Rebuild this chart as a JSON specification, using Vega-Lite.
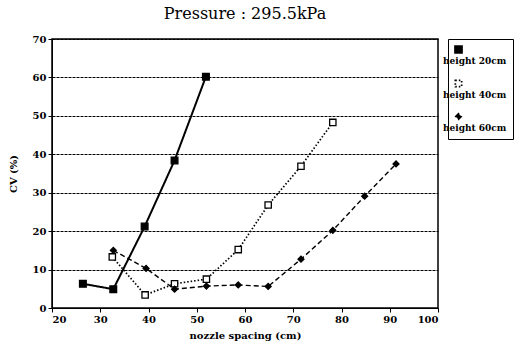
{
  "$schema": "https://vega.github.io/schema/vega-lite/v6.json",
  "autosize": "none",
  "width": 386,
  "height": 269,
  "padding": {"left": 52, "top": 39, "right": 88, "bottom": 39},
  "background": "white",
  "title": {"text": "Pressure : 295.5kPa", "font": "DejaVu Serif", "fontSize": 16, "fontWeight": "normal", "color": "black", "anchor": "middle", "offset": 12},
  "config": {
    "font": "DejaVu Serif",
    "view": {"stroke": "black", "strokeWidth": 1.5},
    "axis": {"labelFont": "DejaVu Serif", "labelFontWeight": "bold", "labelFontSize": 10, "labelColor": "black", "titleFont": "DejaVu Serif", "titleFontWeight": "bold", "titleFontSize": 10, "titleColor": "black", "domainColor": "black", "tickColor": "black", "tickSize": 4},
    "legend": {"labelFont": "DejaVu Serif", "labelFontWeight": "bold", "labelFontSize": 9, "labelColor": "black", "strokeColor": "black", "padding": 6, "offset": 10}
  },
  "data": {"values": [
    {"series": "height 20cm", "spacing": 26.4, "cv": 6.3},
    {"series": "height 20cm", "spacing": 32.7, "cv": 4.9},
    {"series": "height 20cm", "spacing": 39.2, "cv": 21.2},
    {"series": "height 20cm", "spacing": 45.4, "cv": 38.4},
    {"series": "height 20cm", "spacing": 51.9, "cv": 60.2},
    {"series": "height 40cm", "spacing": 32.5, "cv": 13.3},
    {"series": "height 40cm", "spacing": 39.3, "cv": 3.4},
    {"series": "height 40cm", "spacing": 45.4, "cv": 6.3},
    {"series": "height 40cm", "spacing": 52.0, "cv": 7.5},
    {"series": "height 40cm", "spacing": 58.6, "cv": 15.2},
    {"series": "height 40cm", "spacing": 64.8, "cv": 26.8},
    {"series": "height 40cm", "spacing": 71.6, "cv": 36.9},
    {"series": "height 40cm", "spacing": 78.2, "cv": 48.3},
    {"series": "height 60cm", "spacing": 32.7, "cv": 15.0},
    {"series": "height 60cm", "spacing": 39.5, "cv": 10.3},
    {"series": "height 60cm", "spacing": 45.4, "cv": 4.9},
    {"series": "height 60cm", "spacing": 52.0, "cv": 5.7},
    {"series": "height 60cm", "spacing": 58.6, "cv": 6.0},
    {"series": "height 60cm", "spacing": 64.8, "cv": 5.6},
    {"series": "height 60cm", "spacing": 71.6, "cv": 12.7},
    {"series": "height 60cm", "spacing": 78.2, "cv": 20.2},
    {"series": "height 60cm", "spacing": 84.8, "cv": 29.1},
    {"series": "height 60cm", "spacing": 91.3, "cv": 37.5}
  ]},
  "encoding": {
    "x": {"field": "spacing", "type": "quantitative", "title": "nozzle spacing (cm)", "scale": {"domain": [20, 100], "nice": false}, "axis": {"values": [20,30,40,50,60,70,80,90,100], "grid": false, "titlePadding": 6}},
    "y": {"field": "cv", "type": "quantitative", "title": "CV (%)", "scale": {"domain": [0, 70], "nice": false}, "axis": {"values": [0,10,20,30,40,50,60,70], "grid": true, "gridColor": "black", "gridDash": [3, 1], "gridWidth": 1, "titlePadding": 14}}
  },
  "layer": [
    {
      "mark": {"type": "line", "color": "black"},
      "encoding": {
        "strokeDash": {"field": "series", "type": "nominal", "scale": {"domain": ["height 20cm", "height 40cm", "height 60cm"], "range": [[1, 0], [1.5, 2], [5, 3]]}, "legend": {"title": null, "symbolType": "stroke", "symbolStrokeColor": "black", "symbolStrokeWidth": 1.5, "rowPadding": 10, "labelOffset": 4, "encode": {"labels": {"update": {"dx": {"value": -24}, "dy": {"value": 11}}}}}},
        "strokeWidth": {"field": "series", "type": "nominal", "scale": {"domain": ["height 20cm", "height 40cm", "height 60cm"], "range": [2, 1.4, 1.6]}, "legend": null}
      }
    },
    {
      "mark": {"type": "point", "stroke": "black", "strokeWidth": 1.3, "opacity": 1},
      "encoding": {
        "shape": {"field": "series", "type": "nominal", "scale": {"domain": ["height 20cm", "height 40cm", "height 60cm"], "range": ["square", "square", "diamond"]}, "legend": null},
        "fill": {"field": "series", "type": "nominal", "scale": {"domain": ["height 20cm", "height 40cm", "height 60cm"], "range": ["black", "white", "black"]}, "legend": null},
        "size": {"field": "series", "type": "nominal", "scale": {"domain": ["height 20cm", "height 40cm", "height 60cm"], "range": [45, 35, 12]}, "legend": null}
      }
    }
  ]
}
